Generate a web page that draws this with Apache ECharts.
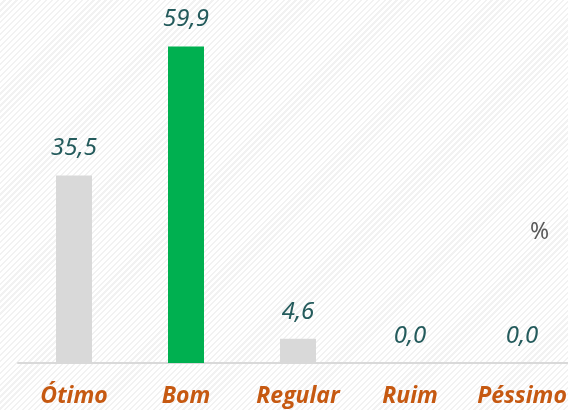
<!DOCTYPE html>
<html>
<head>
<meta charset="utf-8">
<script src="https://cdn.jsdelivr.net/npm/echarts@6/dist/echarts.min.js"></script>
<style>
html, body { margin: 0; padding: 0; }
#chart {
    width: 568px;
    height: 410px;
    background-color: #ffffff;
    background-image: repeating-linear-gradient(-45deg, #ffffff 0px, #ffffff 2.6px, #f2f2f2 2.6px, #f2f2f2 4.2px);
}
</style>
</head>
<body>
<div id="chart"></div>
<script>
// categorias e valores (%)
const categories = ['Ótimo', 'Bom', 'Regular', 'Ruim', 'Péssimo'];
const values = [35.5, 59.9, 4.6, 0.0, 0.0];
const barColors = ['#d9d9d9', '#00b050', '#d9d9d9', '#d9d9d9', '#d9d9d9'];

const chart = echarts.init(document.getElementById('chart'), null, { renderer: 'canvas' });

chart.setOption({
    backgroundColor: 'rgba(0,0,0,0)',
    animation: false,
    title: {
        text: '%',
        left: 525,
        top: 216,
        textStyle: { color: '#595959', fontSize: 23, fontWeight: 'normal', fontFamily: 'Noto Sans' }
    },
    grid: {
        left: 18,
        width: 560,
        top: 46,
        bottom: 47,
        outerBoundsMode: 'none'
    },
    xAxis: {
        type: 'category',
        data: categories,
        axisLine: { lineStyle: { color: '#d9d9d9', width: 2 } },
        axisTick: { show: false },
        axisLabel: {
            interval: 0,
            margin: 22,
            color: '#c65911',
            fontSize: 23,
            fontWeight: 'bold',
            fontStyle: 'italic',
            fontFamily: 'Open Sans'
        }
    },
    yAxis: {
        type: 'value',
        min: 0,
        max: 60,
        show: false
    },
    series: [{
        type: 'bar',
        barWidth: 36,
        data: values.map((v, i) => ({ value: v, itemStyle: { color: barColors[i] } })),
        label: {
            show: true,
            position: 'top',
            distance: 15,
            color: '#245b5c',
            fontSize: 24,
            fontStyle: 'italic',
            fontFamily: 'Noto Sans',
            formatter: p => p.value.toFixed(1).replace('.', ',')
        }
    }]
});
</script>
</body>
</html>
